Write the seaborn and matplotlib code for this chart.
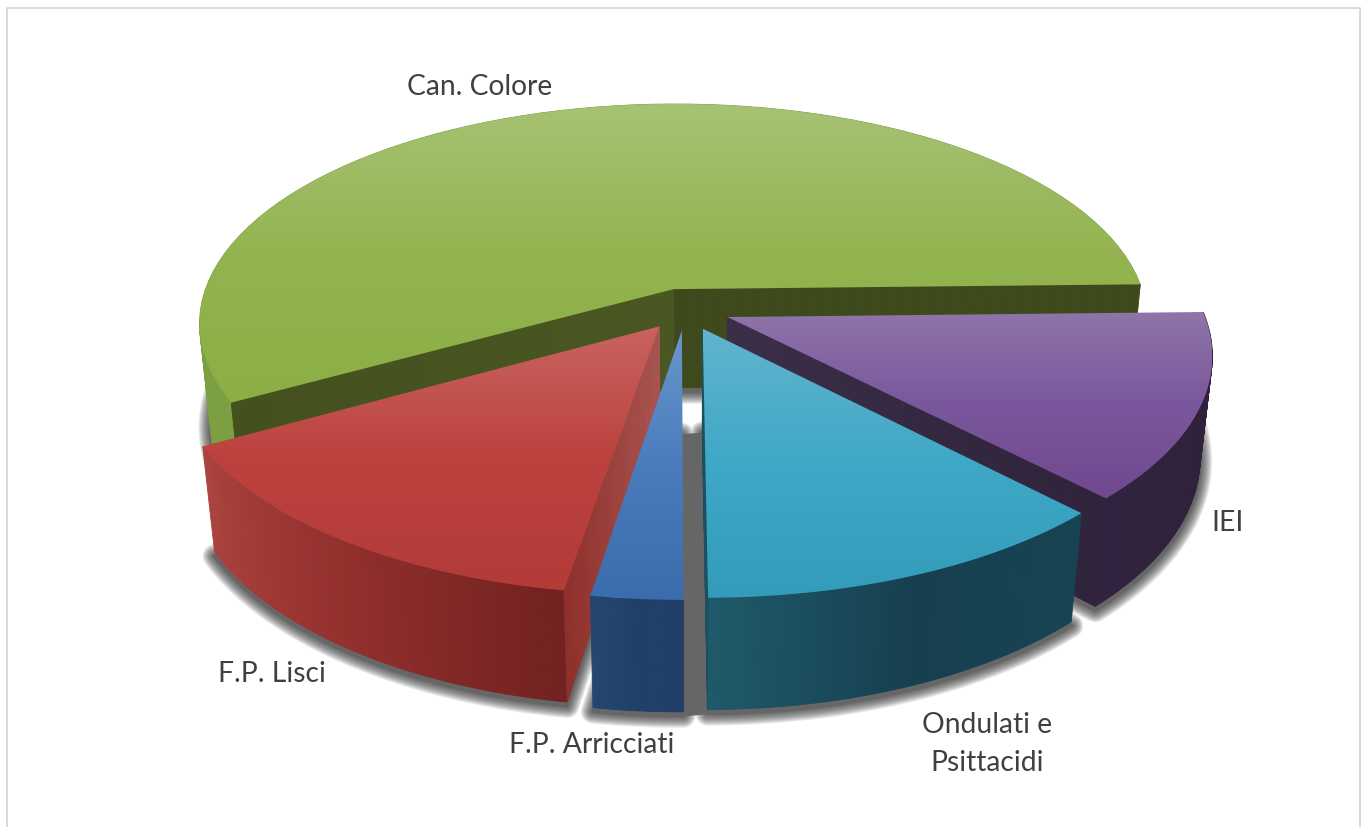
import numpy as np
import matplotlib
matplotlib.use('Agg')
import matplotlib.pyplot as plt
from matplotlib.patches import Polygon, PathPatch
from matplotlib.path import Path
import seaborn as sns

# Shares of the pie, in drawing order round the circle
labels = ['Can. Colore', 'F.P. Lisci', 'F.P. Arricciati', 'Ondulati e\nPsittacidi', 'IEI']
values = [57.8, 14.3, 2.6, 12.1, 13.2]

# Look of each slice
top_colors = [['#a6c274', '#93b450', '#8bae45'],
              ['#c96461', '#bc423e', '#b33c38'],
              ['#6a96cc', '#4a7cbc', '#3b6dae'],
              ['#62b4cd', '#3fa8c6', '#339cba'],
              ['#8f75a9', '#7a579c', '#70498f']]
wall_colors = [['#7c9f42', '#7c9f42'],
               ['#ab433f', '#93302d', '#722221'],
               ['#24466f', '#20406a', '#223f68'],
               ['#1f5a6a', '#163f4f', '#174453'],
               ['#31233f', '#2e2139']]
start_cut = [['#3f4a1c', '#3f4a1c'], None, None, ['#1c5060', '#1c5060'], ['#3a2e48', '#30233c']]
end_cut = [['#4a5722', '#44511e'], ['#a85450', '#8f302c'], None, None, None]
draw_order = [0, 4, 1, 3, 2]

label_xy = [(480, 87), (272, 674), (592, 745), (987, 744), (1228, 523)]

# Perspective of the tilted pie, in pixels
cx, cy, a, b, k, m, d = 685.5, 309, 475, 220, 0.157, 0.023, 102


def proj(x, y, z=0.0):
    w = 1 + k * y + m * z
    return np.column_stack([cx + a * x / w, cy - b * y / w + d * z / w])


def rim(w, z=0.0, n=80):
    t = np.radians(np.linspace(w.theta1, w.theta2, n))
    return proj(w.center[0] + w.r * np.cos(t), w.center[1] + w.r * np.sin(t), np.full(n, z))


def apex(w, z=0.0):
    return proj(np.array([w.center[0]]), np.array([w.center[1]]), np.array([z]))


def strips(ax, top, bottom, stops, zorder):
    cols = sns.blend_palette(stops, n_colors=len(top) - 1)
    for i, c in enumerate(cols):
        quad = np.vstack([top[i], top[i + 1], bottom[i + 1], bottom[i]])
        ax.add_patch(Polygon(quad, fc=c, ec=c, lw=0.6, zorder=zorder))


def outline(w, z=0.0):
    return np.vstack([apex(w, z), rim(w, z)])


sns.set_theme(style='white', font='Lato')
fig = plt.figure(figsize=(13.65, 8.27), dpi=100)
ax = fig.add_axes([0, 0, 1, 1])

wedges, _ = ax.pie(values, explode=[0.095] * 5, startangle=1.3, counterclock=True)
for w in wedges:
    w.set_visible(False)

ax.set_aspect('auto')
ax.set_xlim(0, 1365)
ax.set_ylim(827, 0)
ax.autoscale(False)
ax.axis('off')

# frame round the chart area
ax.plot([7, 7, 1360, 1360], [827, 8, 8, 827], color='#d9d9d9', lw=1.4, zorder=0)

# soft shadow below the base of the slices
shift = np.array([0, 4])
verts, codes = [], []
for w in wedges:
    base = outline(w, 1.0) + shift
    verts += list(base) + [base[0]]
    codes += [Path.MOVETO] + [Path.LINETO] * (len(base) - 1) + [Path.CLOSEPOLY]
shadow = Path(verts, codes)
for lw in np.linspace(24, 2, 12):
    ax.add_patch(PathPatch(shadow, fill=False, ec=(0.2, 0.2, 0.2, 0.1), lw=lw * 0.72,
                           joinstyle='round', zorder=1))
ax.add_patch(PathPatch(shadow, fc='#666666', ec='#666666', lw=2, zorder=1))

# the shadow fills the gap between the two front slices
gap = np.vstack([apex(wedges[2], 1.0), rim(wedges[2], 1.0)[-1:], rim(wedges[3], 1.0)[:1], apex(wedges[3], 1.0)]) + shift
ax.add_patch(Polygon(gap, fc='#666666', ec='#666666', lw=1, zorder=1))

for n, i in enumerate(draw_order):
    w = wedges[i]
    zo = 2 + n
    # outer wall first, cut faces next, top last
    strips(ax, rim(w, 0.0), rim(w, 1.0), wall_colors[i], zo)
    if start_cut[i]:
        r0 = rim(w, 0.0)[0]
        r1 = rim(w, 1.0)[0]
        top = np.linspace(apex(w, 0.0)[0], r0, 31)
        bot = np.linspace(apex(w, 1.0)[0], r1, 31)
        strips(ax, top, bot, start_cut[i], zo)
    if end_cut[i]:
        r0 = rim(w, 0.0)[-1]
        r1 = rim(w, 1.0)[-1]
        top = np.linspace(apex(w, 0.0)[0], r0, 31)
        bot = np.linspace(apex(w, 1.0)[0], r1, 31)
        strips(ax, top, bot, end_cut[i], zo)

    face = outline(w)
    patch = Polygon(face, fc='none', ec='none', zorder=zo)
    ax.add_patch(patch)
    cmap = sns.blend_palette(top_colors[i], as_cmap=True)
    ax.imshow(np.linspace(0, 1, 256)[:, None], cmap=cmap, aspect='auto', zorder=zo,
              extent=(face[:, 0].min(), face[:, 0].max(), face[:, 1].max(), face[:, 1].min()),
              clip_path=patch, interpolation='bilinear')

ax.set_xlim(0, 1365)
ax.set_ylim(827, 0)

for lab, (x, y) in zip(labels, label_xy):
    ax.text(x, y, lab, ha='center', va='center', fontsize=20.3, color='#404040',
            linespacing=1.55, zorder=20)

fig.savefig('out.png', dpi=100)
